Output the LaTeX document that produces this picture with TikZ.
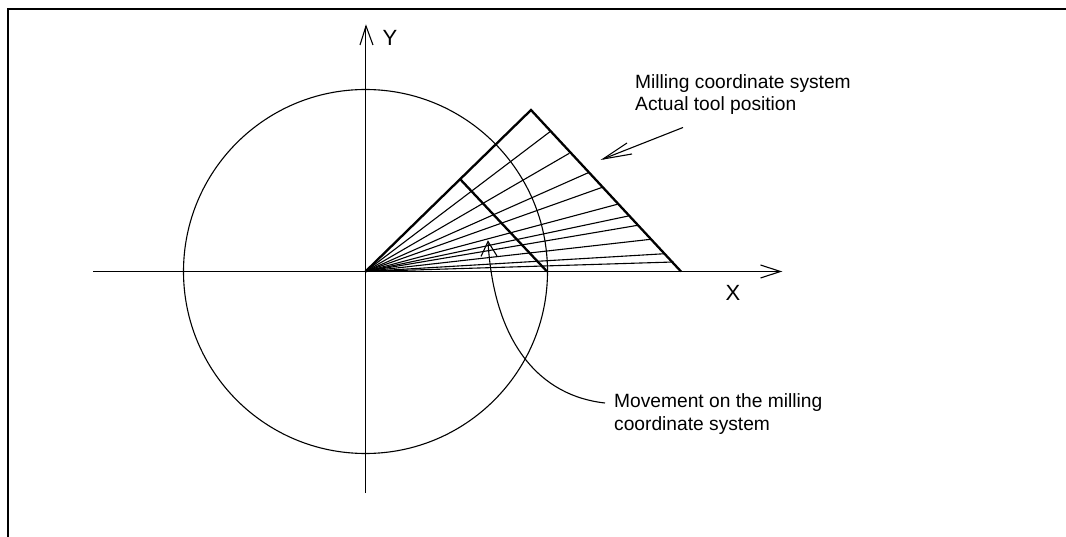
\documentclass[tikz,border=0pt]{standalone}
\usepackage{fontspec}
\setmainfont{Liberation Sans}
\tikzset{
  thin line/.style={line width=1.1pt,black},
  heavy/.style={line width=2.3pt,black,line join=miter},
  frame line/.style={line width=2.2pt,black},
  label/.style={inner sep=0pt,align=left,anchor=base west,font=\fontsize{19.2}{22.2}\selectfont},
  axis label/.style={inner sep=0pt,anchor=base west,font=\fontsize{22}{24}\selectfont}
}
\begin{document}
\begin{tikzpicture}[x=1pt,y=-1pt]
\useasboundingbox (0,0) rectangle (1066,537);
\draw[frame line] (8,537) -- (8,9) -- (1066,9);
\coordinate (O) at (365.5,271.5);
\draw[thin line] (O) circle[radius=182];
% axes
\draw[thin line] (93,271.5) -- (780.5,271.5);
\draw[thin line] (760.5,265) -- (780.5,271.5) -- (760.5,278);
\draw[thin line] (365.5,493) -- (365.5,26);
\draw[thin line] (360,45) -- (366,26) -- (373,45);
% fan
\foreach \px/\py in {550/131.7,569.3/153.3,588.3/172.7,602.3/187.3,617.3/204.3,628.3/216,637.7/225.3,650.7/239.3,665/253.7,673.3/262}
  \draw[thin line] (O) -- (\px,\py);
% triangles
\coordinate (A) at (531,110);
\coordinate (B) at (681,271.5);
\coordinate (C) at (460,179);
\coordinate (D) at (547,271.5);
\draw[heavy] (O) -- (A) -- (B);
\draw[heavy] (C) -- (D);
% label arrow
\coordinate (T1) at (603,159);
\draw[thin line] (683,127.5) -- (T1);
\draw[thin line] (627,143) -- (T1) -- (632,154);
% movement arrow
\coordinate (T2) at (488,241.5);
\draw[thin line] (605,403) .. controls (541,396) and (494,345) .. (T2);
\draw[thin line] (481,256.5) -- (T2) -- (497,256);
% labels
\node[label] (m1) at (635,111) {Milling coordinate system\\Actual tool position};
\node[label] (m2) at (614,430) {Movement on the milling\\coordinate system};
\node[axis label] (y) at (382.5,45.5) {Y};
\node[axis label] (x) at (725.5,301) {X};
\end{tikzpicture}
\end{document}
